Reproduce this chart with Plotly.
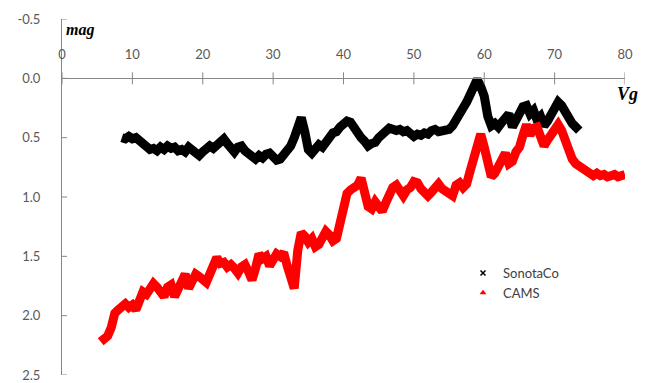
import plotly.graph_objects as go

# ---------------- data ----------------
sonota_x = [8.5 + 0.5 * i for i in range(131)]
sonota_y = [0.50, 0.51, 0.49, 0.51, 0.50, 0.52, 0.55, 0.57, 0.60, 0.59,
            0.61, 0.58, 0.60, 0.57, 0.59, 0.58, 0.61, 0.60, 0.62, 0.58,
            0.61, 0.64, 0.65, 0.62, 0.60, 0.57, 0.59, 0.56, 0.54, 0.51,
            0.55, 0.60, 0.62, 0.58, 0.57, 0.61, 0.63, 0.66, 0.68, 0.65,
            0.67, 0.64, 0.63, 0.66, 0.69, 0.68, 0.65, 0.61, 0.57, 0.50,
            0.38, 0.33, 0.45, 0.60, 0.63, 0.59, 0.56, 0.58, 0.52, 0.50,
            0.46, 0.45, 0.41, 0.39, 0.36, 0.37, 0.42, 0.47, 0.50, 0.53,
            0.57, 0.55, 0.54, 0.50, 0.47, 0.44, 0.42, 0.43, 0.44, 0.43,
            0.45, 0.44, 0.48, 0.49, 0.47, 0.48, 0.46, 0.47, 0.44, 0.43,
            0.45, 0.44, 0.42, 0.43, 0.40, 0.36, 0.30, 0.25, 0.20, 0.12,
            0.04, 0.01, 0.07, 0.15, 0.32, 0.40, 0.38, 0.41, 0.37, 0.33,
            0.30, 0.41, 0.36, 0.32, 0.24, 0.23, 0.30, 0.27, 0.35, 0.32,
            0.40, 0.36, 0.30, 0.24, 0.20, 0.23, 0.29, 0.34, 0.38, 0.41,
            0.44]

cams_x = [5.5 + 0.5 * i for i in range(150)]
cams_y = [2.22, 2.19, 2.17, 2.10, 1.98, 1.95, 1.92, 1.90, 1.93, 1.91,
          1.95, 1.88, 1.80, 1.82, 1.77, 1.73, 1.76, 1.82, 1.84, 1.76,
          1.74, 1.84, 1.78, 1.72, 1.65, 1.77, 1.72, 1.65, 1.67, 1.70,
          1.72, 1.65, 1.56, 1.51, 1.56, 1.55, 1.59, 1.57, 1.60, 1.64,
          1.59, 1.57, 1.63, 1.70, 1.60, 1.48, 1.52, 1.50, 1.58, 1.52,
          1.48, 1.50, 1.47, 1.58, 1.72, 1.77, 1.45, 1.30, 1.33, 1.38,
          1.35, 1.42, 1.40, 1.36, 1.29, 1.32, 1.37, 1.35, 1.22, 1.10,
          0.97, 0.94, 0.92, 0.90, 0.84, 0.95, 1.08, 1.10, 1.04, 1.08,
          1.12, 1.05, 0.98, 0.92, 0.90, 0.96, 0.99, 0.94, 0.92, 0.87,
          0.88, 0.93, 0.95, 0.99, 0.96, 0.92, 0.89, 0.93, 0.95, 0.98,
          0.99, 0.90, 0.88, 0.92, 0.89, 0.78, 0.68, 0.55, 0.47, 0.58,
          0.72, 0.83, 0.80, 0.73, 0.70, 0.63, 0.72, 0.70, 0.62, 0.58,
          0.48, 0.39, 0.48, 0.42, 0.41, 0.52, 0.57, 0.52, 0.47, 0.42,
          0.39, 0.44, 0.52, 0.63, 0.68, 0.72, 0.74, 0.76, 0.79, 0.81,
          0.82, 0.80, 0.82, 0.81, 0.83, 0.82, 0.81, 0.83, 0.82, 0.81]

x_ticks = [0, 10, 20, 30, 40, 50, 60, 70, 80]
y_ticks = [-0.5, 0.0, 0.5, 1.0, 1.5, 2.0, 2.5]
series_names = ["SonotaCo", "CAMS"]

# ---------------- figure ----------------
W, H = 645, 383
ml, mr, mt, mb = 62, 20, 19, 8
PW, PH = W - ml - mr, H - mt - mb
y_min, y_max = -0.5, 2.5


def px_to_paper(px, py):
    return (px - ml) / PW, (H - mb - py) / PH


fig = go.Figure()
fig.add_trace(go.Scatter(x=sonota_x, y=sonota_y, mode="lines",
                         line=dict(color="#000000", width=9), showlegend=False,
                         hoverinfo="skip"))
fig.add_trace(go.Scatter(x=cams_x, y=cams_y, mode="lines",
                         line=dict(color="#FF0000", width=9), showlegend=False,
                         hoverinfo="skip"))
# legend entries (marker style)
fig.add_trace(go.Scatter(x=[None], y=[None], mode="markers", name=series_names[0],
                         marker=dict(symbol="x-thin", size=5, color="#000000",
                                     line=dict(width=1.5, color="#000000"))))
fig.add_trace(go.Scatter(x=[None], y=[None], mode="markers", name=series_names[1],
                         marker=dict(symbol="triangle-up", size=6, color="#FF0000")))

axis_color = "#868686"
label_font = dict(family="Lato, Liberation Sans, sans-serif", size=13, color="#595959")

xpos = (y_max - 0.0) / (y_max - y_min)
lx, ly = px_to_paper(463, 258)
fig.update_layout(
    width=W, height=H,
    margin=dict(l=ml, r=mr, t=mt, b=mb, pad=0, autoexpand=False),
    paper_bgcolor="white", plot_bgcolor="white",
    xaxis=dict(range=[0, 80], tickvals=x_ticks, ticktext=[str(t) for t in x_ticks],
               side="top", anchor="free", position=xpos, automargin=False,
               showline=True, linecolor=axis_color, linewidth=1,
               ticks="", showgrid=False, zeroline=False,
               tickfont=label_font, ticklabelstandoff=14),
    yaxis=dict(range=[y_max, y_min], tickvals=y_ticks, automargin=False,
               ticktext=[f"{t:.1f}" for t in y_ticks],
               showline=True, linecolor=axis_color, linewidth=1,
               ticks="", showgrid=False, zeroline=False,
               tickfont=label_font, ticklabelstandoff=18),
    legend=dict(x=lx, y=ly, xanchor="left", yanchor="top",
                bgcolor="rgba(0,0,0,0)",
                font=dict(family="Lato, Liberation Sans, sans-serif", size=13,
                          color="#404040"),
                itemwidth=30, tracegroupgap=0),
    showlegend=True,
)

shapes = []
for t in x_ticks:
    shapes.append(dict(type="line", xref="x", yref="y", x0=t, x1=t,
                       ysizemode="pixel", yanchor=0.0, y0=-6, y1=6,
                       line=dict(color=axis_color, width=1)))
for t in y_ticks:
    shapes.append(dict(type="line", xref="x", yref="y", y0=t, y1=t,
                       xsizemode="pixel", xanchor=0, x0=-5, x1=5,
                       line=dict(color=axis_color, width=1)))
fig.update_layout(shapes=shapes)

mx, my = px_to_paper(64, 30)
fig.add_annotation(text="<b><i>mag</i></b>", xref="paper", yref="paper",
                   x=mx, y=my, xanchor="left", yanchor="middle", showarrow=False,
                   font=dict(family="Liberation Serif, DejaVu Serif, serif",
                             size=16, color="#000000"))
vx, vy = px_to_paper(628, 94)
fig.add_annotation(text="<b><i>Vg</i></b>", xref="paper", yref="paper",
                   x=vx, y=vy, xanchor="center", yanchor="middle", showarrow=False,
                   font=dict(family="Liberation Serif, DejaVu Serif, serif",
                             size=18, color="#000000"))

fig.write_html("out.html", config={"displayModeBar": False},
               post_script="document.body.style.margin='0';")
